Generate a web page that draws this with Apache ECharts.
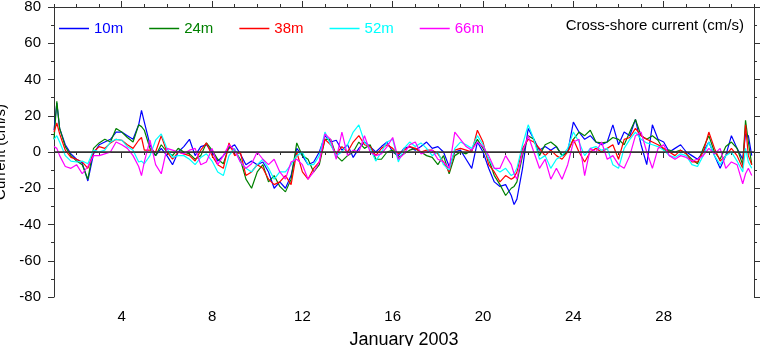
<!DOCTYPE html>
<html><head><meta charset="utf-8">
<script src="https://cdn.jsdelivr.net/npm/echarts@6/dist/echarts.min.js"></script>
<style>html,body{margin:0;padding:0;background:#fff}#c{width:762px;height:346px}</style>
</head><body><div id="c"></div>
<script>
// Day of January 2003
var days = [1,1.125,1.25,1.5,1.75,2,2.25,2.5,2.75,3,3.25,3.5,3.75,4,4.25,4.5,4.75,4.875,5,5.25,5.5,5.75,6,6.25,6.5,6.75,7,
  7.25,7.5,7.75,8,8.25,8.5,8.75,9,9.25,9.5,9.75,10,10.25,10.5,10.75,11,11.25,11.5,11.75,12,12.25,12.5,12.75,13,13.25,
  13.5,13.75,14,14.25,14.5,14.75,15,15.25,15.5,15.75,16,16.25,16.5,16.75,17,17.25,17.5,17.75,18,18.25,18.5,18.75,19,19.25,19.5,
  19.75,20,20.25,20.5,20.75,21,21.25,21.375,21.5,21.75,22,22.25,22.5,22.75,23,23.25,23.5,23.75,24,24.25,24.5,24.75,25,25.25,25.5,25.75,
  26,26.25,26.5,26.75,27,27.25,27.5,27.75,28,28.25,28.5,28.75,29,29.25,29.5,29.75,30,30.25,30.5,30.75,31,31.25,31.5,31.625,31.75,31.9];
var names = ['10m','24m','38m','52m','66m'];
var colors = ['#0000ff','#008000','#ff0000','#00ffff','#ff00ff'];
var s10m = [12,27,13,4,-1,-4,-6,-16,-1,4,5.5,7,11,11,9,7,15,23,16.5,4,-2,2,-2,-7,0,3,7,
  -2,3,4,0,-5,-2,2,4,-1,-7,-5,-7,-5.5,-11,-20,-16.5,-20,-13,2,-2,-7,-5.5,0,9,5.5,
  6.5,1,4,-3,2,5.5,3,0,3,5.5,0,-2,2,3,1,3,5.5,2,3,0,-8,0,1,-4,-9,
  5.5,0,-9,-16.5,-19,-18,-24,-29,-26,-9,13,7,1,3,1,3,-2,0,16.5,11,7,9,5.5,4,5.5,15,
  4,11,9,18,4,-7,15,7,5.5,0,2,4,0,-2,-4,0,5.5,-2,-9,-2,9,2,-4,10,9,-2];
var s24m = [7,28,13,3,-2,-5,-7,-15,2,5,7,5.5,13,11,8,5.5,15,14,12,2,-2,4,0,-2,2,0,-1,
  -4,-2,5,1,-4,-6.5,3,1,-4,-15,-20,-11,-7,-16.5,-13,-19,-22,-15,5,-2,-4,-11,-7,7,7,
  -2,-5,-2,0,5.5,2,4,-4,-4,0,1,-3,-1,1,2,0,-2,-3,-7,-2,-12,-2,0,-1,1,
  7,2,-4,-13,-18,-24,-20,-19,-16.5,-2,9,7,-2,4,5.5,3,-2,0,7,11,9,12,5.5,5,5.5,8,
  7,4,11,18,9,7,9,6.5,1,1,0,1,-1,-4,-6.5,2,9,0,-4,3,5.5,2,-7,17.5,5.5,-7];
var s38m = [11,16,10,1,-3,-4,-5.5,-9,0,3,2,5,7,6.5,4,2,6.5,8,1,1,0,9,0,-4,0,-1,-2,
  -5,1,5,-2,-7,-9,5,-2,0,-13,-11,-7,-9,-15,-18,-16.5,-13,-18,0,-11,-15,-9,-5.5,7,4,
  -1,3,0,5.5,9,4,3,-2,2,4,2,-1,1,3,2,0,1,1,-1,-5.5,-11,1,2,1,0,
  12,5.5,-7,-11,-16.5,-13,-15,-14,-11,2,7,5.5,2,-2,1,-2,-4,0,7,0,-5.5,0,2,0,2,4,
  -4,7,8,13,9,7,5.5,4,2,0,-2,1,-1,-5.5,-5.5,0,11,2,-5,-2,2,-2,-9,15,-2,-7];
var s52m = [7,9,5.5,-2,-5,-5.5,-5,-6.5,1,0,1,5.5,7,6.5,3,1,-5.5,-5,-6.5,-2,6.5,10,2,-3,-2,-2,-4,
  -7,-3,-1,-5,-11,-13,-2,2,-5.5,-9,-11,-7,-4,-9,-15,-11,-11,-7,-2,0,-7,-7,-2,11,4,
  -2,0,4,11,15,5.5,2,-5,0,5.5,7,-5.5,2,5.5,3,5,2,-2,0,-7,-10,2,5.5,4,2,
  9,4,-4,-9,-11,-9,-13,-12,-9,4,15,7,-4,-2,-9,-4,-2,2,11,5.5,-2,2,3,1,2,-7,
  -9,2,7,11,7,5,4,3,1,-2,-3,-1,-2,-7,-8,-2,5.5,-2,-7,-2,0,-5,-11,2,-5.5,-9];
var s66m = [3,2,-2,-8,-9,-7,-12,-8,-2,-2,-1,0,5.5,4,2,-2,-8,-13,-5.5,6.5,-7,-12,2,1,0,-1,1,
  2,-7,-5.5,2,-7,-2,4,1,-5.5,-9,-6.5,0,-4,-7,-4,-11,-15,-5.5,-4,-7,-15,-11,-5.5,10,7,
  -4,11,-2,1,0,9,0,-2,-1,3,8,-4,-1,4,5.5,-1,0,1,-4,-5.5,-9,11,7,3,1,
  5.5,3,-2,-9,-9,-2,-7,-12,-15,0,9,0,-9,-4,-15,-9,-15,-7,5.5,7,-13,2,0,5.5,-4,-2,
  -7,-9,-2,9,11,0,-9,2,4,-2,-4,-2,-3,-5,-4,-2,2,-1,2,-9,-5.5,-7,-17.5,-12,-9,-13];
var xMajorTicks = [4,8,12,16,20,24,28];
var yTicks = [-80,-60,-40,-20,0,20,40,60,80];

var values = [s10m,s24m,s38m,s52m,s66m];
var FONT = 'Liberation Sans, Arial, Helvetica, sans-serif';
var AX = '#333';
function pairs(v){ return days.map(function(d,i){return [d,v[i]];}); }
var series = names.map(function(n,k){
  return {name:n,type:'line',xAxisIndex:0,yAxisIndex:0,data:pairs(values[k]),showSymbol:false,symbol:'none',
    lineStyle:{color:colors[k],width:1.2},itemStyle:{color:colors[k]},animation:false};
});
series[4].markLine = {silent:true,symbol:'none',label:{show:false},lineStyle:{color:'#333',width:1.5,type:'solid'},data:[{yAxis:0}],animation:false};
var minorX = {type:'value',min:1,max:32,interval:1,gridIndex:0,
  axisLine:{show:true,lineStyle:{color:AX,width:1}},axisTick:{show:true,length:3,lineStyle:{color:AX}},
  axisLabel:{show:false},splitLine:{show:false}};
var chart = echarts.init(document.getElementById('c'),null,{renderer:'canvas'});
chart.setOption({
  animation:false,
  backgroundColor:'#fff',
  grid:{left:54,right:8,top:7,bottom:49,containLabel:false,outerBoundsMode:'none'},
  title:{text:'Cross-shore current (cm/s)',right:13,top:13,textStyle:{fontFamily:FONT,fontSize:15,fontWeight:'normal',color:'#000'}},
  legend:{left:54,top:16,icon:'rect',itemWidth:30,itemHeight:1.5,itemGap:26,
    textStyle:{fontFamily:FONT,fontSize:15},
    data:names.map(function(n,k){return {name:n,textStyle:{color:colors[k]}};})},
  xAxis:[
    Object.assign({},minorX,{position:'bottom'}),
    {type:'value',min:1,max:32,position:'bottom',gridIndex:0,
      axisLine:{show:false},axisTick:{show:true,length:6,customValues:xMajorTicks,lineStyle:{color:AX}},
      axisLabel:{show:true,customValues:xMajorTicks,margin:12,fontFamily:FONT,fontSize:15,color:'#000'},
      splitLine:{show:false},
      name:'January 2003',nameLocation:'middle',nameGap:34,nameTextStyle:{fontFamily:FONT,fontSize:18,color:'#000'}},
    Object.assign({},minorX,{position:'top'}),
    {type:'value',min:1,max:32,position:'top',gridIndex:0,
      axisLine:{show:false},axisTick:{show:true,length:6,customValues:xMajorTicks,lineStyle:{color:AX}},
      axisLabel:{show:false},splitLine:{show:false}}
  ],
  yAxis:[
    {type:'value',min:-80,max:80,interval:20,position:'left',
      axisLine:{show:true,lineStyle:{color:AX}},axisTick:{show:true,length:6,lineStyle:{color:AX}},
      minorTick:{show:true,splitNumber:2,length:3,lineStyle:{color:AX}},
      axisLabel:{margin:13,fontFamily:FONT,fontSize:15,color:'#000'},splitLine:{show:false},
      name:'Current (cm/s)',nameLocation:'middle',nameGap:46,nameTextStyle:{fontFamily:FONT,fontSize:15,color:'#000'}},
    {type:'value',min:-80,max:80,interval:20,position:'right',
      axisLine:{show:true,lineStyle:{color:AX}},axisTick:{show:true,length:6,lineStyle:{color:AX}},
      minorTick:{show:true,splitNumber:2,length:3,lineStyle:{color:AX}},
      axisLabel:{show:false},splitLine:{show:false}}
  ],
  series:series
});
</script></body></html>
